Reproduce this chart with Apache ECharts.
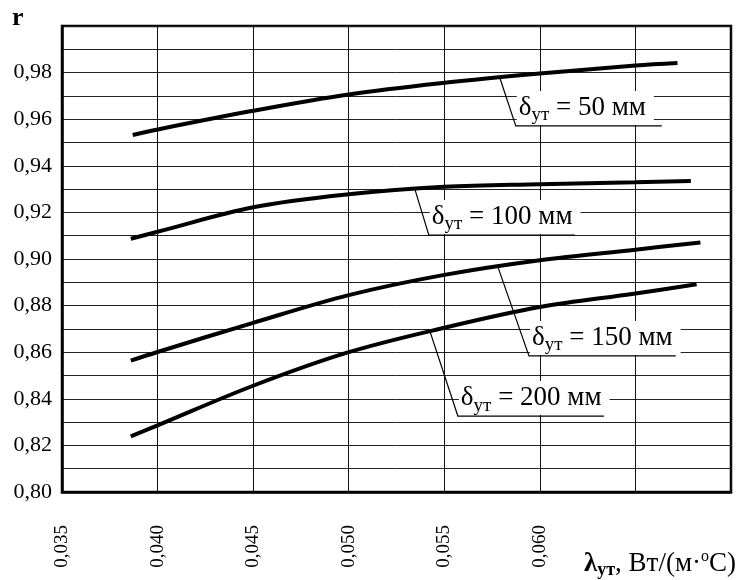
<!DOCTYPE html>
<html><head><meta charset="utf-8">
<script src="https://cdn.jsdelivr.net/npm/echarts@6/dist/echarts.min.js"></script>
<style>html,body{margin:0;padding:0;background:#fff}#c{width:742px;height:580px}</style>
</head><body><div id="c"></div>
<script>
// Tick labels
const xTickLabels = [0.035, 0.040, 0.045, 0.050, 0.055, 0.060];
const yTickLabels = [0.80, 0.82, 0.84, 0.86, 0.88, 0.90, 0.92, 0.94, 0.96, 0.98];

// Series: thermal conductivity λ (x) vs r (y)
const names = ['50', '100', '150', '200'];
const x50  = [0.0387, 0.040, 0.045, 0.050, 0.055, 0.060, 0.065, 0.0672];
const r50  = [0.9532, 0.9556, 0.9636, 0.9706, 0.9756, 0.9796, 0.9830, 0.9841];
const x100 = [0.0386, 0.040, 0.045, 0.050, 0.055, 0.060, 0.065, 0.0679];
const r100 = [0.9087, 0.9117, 0.9222, 0.9278, 0.9310, 0.9321, 0.9329, 0.9335];
const x150 = [0.0386, 0.040, 0.045, 0.050, 0.055, 0.060, 0.065, 0.0684];
const r150 = [0.8564, 0.8601, 0.8726, 0.8845, 0.8932, 0.8995, 0.9040, 0.9071];
const x200 = [0.0386, 0.040, 0.045, 0.050, 0.055, 0.060, 0.065, 0.0682];
const r200 = [0.8239, 0.8286, 0.8456, 0.8600, 0.8705, 0.8794, 0.8852, 0.8892];

const xs = [x50, x100, x150, x200];
const rs = [r50, r100, r150, r200];

const FONT = '"Liberation Serif", "Times New Roman", serif';

// Callout geometry (data coordinates): leader starts on the curve at fromX,
// bends at bend, then underlines the label up to endX
const callouts = [
  {s: 0, fromX: 0.0579,  bend: [0.05874, 0.9571], endX: 0.06638},
  {s: 1, fromX: 0.05346, bend: [0.05419, 0.9103], endX: 0.06183},
  {s: 2, fromX: 0.0578,  bend: [0.05943, 0.8584], endX: 0.06711},
  {s: 3, fromX: 0.05425, bend: [0.05571, 0.8326], endX: 0.06335}
];

function interp(xa, ya, x) {
  for (let i = 0; i < xa.length - 1; i++) {
    if (x >= xa[i] && x <= xa[i + 1]) {
      const t = (x - xa[i]) / (xa[i + 1] - xa[i]);
      return ya[i] + t * (ya[i + 1] - ya[i]);
    }
  }
  return ya[ya.length - 1];
}
const fmt = (v, d) => v.toFixed(d).replace('.', ',');
const has = (arr, v) => arr.some(a => Math.abs(a - v) < 1e-7);

const chart = echarts.init(document.getElementById('c'), null, {renderer: 'canvas'});
const series = names.map((n, i) => ({
  type: 'line', name: n, smooth: 0.35, symbol: 'none', z: 5,
  lineStyle: {color: '#000', width: 4, cap: 'butt'},
  data: xs[i].map((x, j) => [x, rs[i][j]])
}));

chart.setOption({
  animation: false,
  backgroundColor: '#fff',
  grid: {left: 62, right: 11, top: 26, bottom: 88, show: true, borderColor: '#000', borderWidth: 2.5, backgroundColor: 'transparent'},
  xAxis: {
    type: 'value', min: 0.035, max: 0.070, interval: 0.005,
    axisLine: {show: true, onZero: false, lineStyle: {color: '#000', width: 2.5}},
    axisTick: {show: false},
    splitLine: {show: true, lineStyle: {color: '#111', width: 1}},
    axisLabel: {
      rotate: 90, margin: 33, color: '#000', fontFamily: FONT, fontSize: 19,
      formatter: v => has(xTickLabels, v) ? fmt(v, 3) : ''
    }
  },
  yAxis: {
    type: 'value', min: 0.80, max: 1.00, interval: 0.01,
    axisLine: {show: true, lineStyle: {color: '#000', width: 2.5}},
    axisTick: {show: false},
    splitLine: {show: true, lineStyle: {color: '#222', width: 1}},
    axisLabel: {
      margin: 10, color: '#000', fontFamily: FONT, fontSize: 22,
      formatter: v => has(yTickLabels, v) ? fmt(v, 2) : ''
    }
  },
  series: series
});

const px = p => chart.convertToPixel({gridIndex: 0}, p);
const graphics = [];
callouts.forEach(c => {
  const p0 = px([c.fromX, interp(xs[c.s], rs[c.s], c.fromX)]);
  const p1 = px(c.bend);
  const p2 = px([c.endX, c.bend[1]]);
  graphics.push({
    type: 'text', z: 20, x: p1[0] + 1, y: p1[1] - 1,
    style: {
      text: '{d|δ}{s|ут}{d| = ' + names[c.s] + ' мм}',
      align: 'left', verticalAlign: 'bottom',
      backgroundColor: '#fff', padding: [0, 8, 0, 2],
      rich: {
        d: {fontFamily: FONT, fontSize: 27, lineHeight: 34, verticalAlign: 'middle', fill: '#000'},
        s: {fontFamily: FONT, fontSize: 19, lineHeight: 18, verticalAlign: 'bottom', fill: '#000'}
      }
    }
  });
  graphics.push({
    type: 'polyline', z: 21,
    shape: {points: [p0, p1, p2]},
    style: {stroke: '#000', lineWidth: 1.2, fill: null}
  });
});

// Axis titles
graphics.push({
  type: 'text', z: 20, x: 12, y: 31,
  style: {text: 'r', font: 'bold 26px ' + FONT, fill: '#000', align: 'left', verticalAlign: 'bottom'}
});
graphics.push({
  type: 'text', z: 20, x: 584, y: 579,
  style: {
    text: '{l|λ}{ls|ут}{n|, Вт/(м·}{sp|о}{n|С)}',
    align: 'left', verticalAlign: 'bottom',
    rich: {
      l: {fontFamily: FONT, fontWeight: 'bold', fontSize: 27, lineHeight: 30, verticalAlign: 'middle', fill: '#000'},
      ls: {fontFamily: FONT, fontWeight: 'bold', fontSize: 18, lineHeight: 16, verticalAlign: 'bottom', fill: '#000'},
      n: {fontFamily: FONT, fontSize: 27, lineHeight: 30, verticalAlign: 'middle', fill: '#000'},
      sp: {fontFamily: FONT, fontSize: 16, lineHeight: 16, verticalAlign: 'top', fill: '#000'}
    }
  }
});
chart.setOption({graphic: graphics});
</script>
</body></html>
